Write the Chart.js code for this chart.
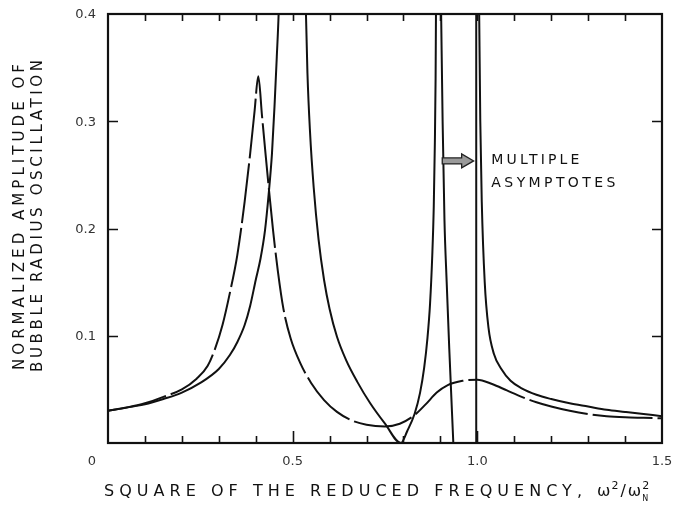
<!DOCTYPE html>
<html><head><meta charset="utf-8">
<script src="https://cdn.jsdelivr.net/npm/chart.js@4/dist/chart.umd.min.js"></script>
<style>html,body{margin:0;padding:0;background:#fff;}#wrap{width:674px;height:510px;}</style>
</head><body><div id="wrap"><canvas id="c" width="674" height="510"></canvas></div>
<script>
// ---- data ----
const undampedX = [0,0.05,0.1,0.15,0.2,0.25,0.3,0.33,0.35,0.37,0.385,0.4,0.413,0.425,0.435,0.444,0.451,0.457,0.462,0.466,0.5,
  0.533,0.536,0.54,0.547,0.557,0.57,0.585,0.6,0.62,0.645,0.675,0.71,0.75,0.793,0.81,0.83,0.845,0.856,0.865,0.872,0.878,0.882,0.885,0.887,0.888,0.889,0.895,
  0.9,0.902,0.906,0.911,0.917,0.924,0.935,0.96,
  1.003,1.005,1.008,1.012,1.02,1.03,1.045,1.065,1.09,1.12,1.16,1.2,1.25,1.3,1.35,1.4,1.45,1.5];
const undampedY = [0.030,0.033,0.036,0.041,0.047,0.056,0.069,0.082,0.094,0.110,0.128,0.152,0.172,0.198,0.232,0.270,0.315,0.360,0.400,0.450,null,
  0.450,0.400,0.345,0.290,0.238,0.190,0.152,0.125,0.099,0.077,0.057,0.037,0.018,0.000,0.011,0.027,0.047,0.070,0.098,0.130,0.175,0.220,0.280,0.340,0.400,0.450,null,
  0.450,0.400,0.300,0.208,0.150,0.088,0.000,null,
  0.450,0.400,0.300,0.225,0.150,0.108,0.083,0.069,0.058,0.051,0.045,0.041,0.037,0.034,0.031,0.029,0.027,0.025];
const asymptoteX = [0.997,0.997];
const asymptoteY = [0.000,0.450];
const dampedX = [0,0.05,0.1,0.15,0.2,0.24,0.27,0.29,0.31,0.33,0.35,0.37,0.385,0.397,0.407,0.417,0.427,0.437,0.447,0.46,0.475,0.495,0.52,0.55,0.585,0.62,0.66,0.7,0.75,0.79,0.83,0.86,0.89,0.92,0.96,1.0,1.04,1.08,1.12,1.16,1.2,1.25,1.3,1.35,1.4,1.45,1.5];
const dampedY = [0.030,0.033,0.037,0.043,0.050,0.060,0.072,0.088,0.110,0.140,0.175,0.225,0.270,0.310,0.342,0.305,0.268,0.232,0.198,0.160,0.125,0.097,0.075,0.056,0.040,0.029,0.021,0.017,0.0155,0.018,0.026,0.036,0.047,0.054,0.058,0.059,0.055,0.049,0.043,0.038,0.034,0.030,0.027,0.025,0.024,0.0235,0.023];
const xMinorTicks = [0.1,0.2,0.3,0.4,0.5,0.6,0.7,0.8,0.9,1.0,1.1,1.2,1.3,1.4];
const xMajorTicks = [0.5,1.0];
const xTickValues = [0,0.5,1.0,1.5];
const xTickLabels = ['0','0.5','1.0','1.5'];
const yTickValues = [0.1,0.2,0.3,0.4];
const yTickLabels = ['0.1','0.2','0.3','0.4'];
const xTitle = 'SQUARE OF THE REDUCED FREQUENCY,';
const yTitleLines = ['NORMALIZED AMPLITUDE OF','BUBBLE RADIUS OSCILLATION'];
const noteLines = ['MULTIPLE','ASYMPTOTES'];

const toPts = (xs, ys) => xs.map((v,i)=>({x:v, y:ys[i]}));
const INK = '#111';
const FONT = '"DejaVu Sans", "Liberation Sans", sans-serif';

function fitText(ctx, text, x, y, width){
  ctx.letterSpacing = '0px';
  const w0 = ctx.measureText(text).width;
  const ls = (width - w0) / Math.max(1, text.length - 1);
  ctx.letterSpacing = ls + 'px';
  ctx.fillText(text, x, y);
  ctx.letterSpacing = '0px';
}

const decor = {
  id: 'decor',
  afterDatasetsDraw(chart){
    const {ctx, chartArea:a, scales:{x, y}} = chart;
    ctx.save();
    // frame
    ctx.strokeStyle = INK; ctx.lineWidth = 2.2;
    ctx.strokeRect(a.left, a.top, a.right - a.left, a.bottom - a.top);
    ctx.lineWidth = 1.6;
    ctx.beginPath();
    xMinorTicks.forEach(v => {
      const px = Math.round(x.getPixelForValue(v)) + 0.5;
      const len = xMajorTicks.includes(v) ? 12 : 7;
      ctx.moveTo(px, a.bottom); ctx.lineTo(px, a.bottom - len);
      ctx.moveTo(px, a.top); ctx.lineTo(px, a.top + 7);
    });
    [0.1,0.2,0.3].forEach(v => {
      const py = Math.round(y.getPixelForValue(v)) + 0.5;
      ctx.moveTo(a.left, py); ctx.lineTo(a.left + 10, py);
      ctx.moveTo(a.right, py); ctx.lineTo(a.right - 10, py);
    });
    ctx.stroke();

    // tick labels
    ctx.fillStyle = '#333';
    ctx.font = '13px ' + FONT;
    ctx.textBaseline = 'middle';
    ctx.textAlign = 'center';
    xTickValues.forEach((v,i) => {
      let px = x.getPixelForValue(v);
      if (v === 0) px -= 16;
      ctx.fillText(xTickLabels[i], px, a.bottom + 19);
    });
    ctx.textAlign = 'right';
    yTickValues.forEach((v,i) => {
      ctx.fillText(yTickLabels[i], a.left - 12, y.getPixelForValue(v) + 1);
    });

    // x title
    ctx.fillStyle = '#111';
    ctx.textAlign = 'left';
    ctx.font = '16px ' + FONT;
    const tx = 104, ty = 492;
    fitText(ctx, xTitle, tx, ty, 478);
    ctx.font = '16px ' + FONT;
    let cx = 597;
    ctx.fillText('\u03c9', cx, ty); cx += ctx.measureText('\u03c9').width + 1;
    ctx.font = '11px ' + FONT;
    ctx.fillText('2', cx, ty - 6); cx += ctx.measureText('2').width + 2;
    ctx.font = '16px ' + FONT;
    ctx.fillText('/', cx, ty); cx += ctx.measureText('/').width + 2;
    ctx.fillText('\u03c9', cx, ty); cx += ctx.measureText('\u03c9').width + 1;
    ctx.font = '11px ' + FONT;
    ctx.fillText('2', cx, ty - 6);
    ctx.font = '8px ' + FONT;
    ctx.fillText('N', cx, ty + 7);

    // y title (rotated)
    ctx.font = '15px ' + FONT;
    ctx.save();
    ctx.translate(20, 370);
    ctx.rotate(-Math.PI / 2);
    fitText(ctx, yTitleLines[0], 0, 0, 306);
    ctx.restore();
    ctx.save();
    ctx.translate(38, 372);
    ctx.rotate(-Math.PI / 2);
    fitText(ctx, yTitleLines[1], 0, 0, 312);
    ctx.restore();

    // arrow annotation
    const ax1 = x.getPixelForValue(0.905), ax2 = x.getPixelForValue(0.99), ay = y.getPixelForValue(0.263);
    ctx.fillStyle = '#9a9a9a'; ctx.strokeStyle = '#222'; ctx.lineWidth = 1.3;
    ctx.beginPath();
    ctx.moveTo(ax1, ay - 3); ctx.lineTo(ax2 - 12, ay - 3); ctx.lineTo(ax2 - 12, ay - 7);
    ctx.lineTo(ax2, ay); ctx.lineTo(ax2 - 12, ay + 7); ctx.lineTo(ax2 - 12, ay + 3);
    ctx.lineTo(ax1, ay + 3); ctx.closePath();
    ctx.fill(); ctx.stroke();

    // note text
    ctx.fillStyle = '#111';
    ctx.font = '14px ' + FONT;
    ctx.textBaseline = 'middle';
    const nx = x.getPixelForValue(1.038);
    fitText(ctx, noteLines[0], nx, y.getPixelForValue(0.264), 88);
    fitText(ctx, noteLines[1], nx, y.getPixelForValue(0.2424), 124);
    ctx.restore();
  }
};

const lineStyle = { borderColor: INK, borderWidth: 2, pointRadius: 0, fill: false, cubicInterpolationMode: 'monotone', spanGaps: false };

new Chart(document.getElementById('c'), {
  type: 'line',
  data: {
    datasets: [
      Object.assign({ data: toPts(undampedX, undampedY) }, lineStyle),
      { data: toPts(asymptoteX, asymptoteY), borderColor: INK, borderWidth: 2, pointRadius: 0, tension: 0, fill: false },
      Object.assign({ data: toPts(dampedX, dampedY), borderDash: [60, 5] }, lineStyle)
    ]
  },
  options: {
    responsive: false,
    animation: false,
    devicePixelRatio: 1,
    layout: { padding: { left: 108, right: 12, top: 14, bottom: 67 } },
    plugins: { legend: { display: false }, tooltip: { enabled: false }, title: { display: false } },
    scales: {
      x: { type: 'linear', min: 0, max: 1.5, display: false },
      y: { type: 'linear', min: 0, max: 0.4, display: false }
    }
  },
  plugins: [decor]
});
</script>
</body></html>
